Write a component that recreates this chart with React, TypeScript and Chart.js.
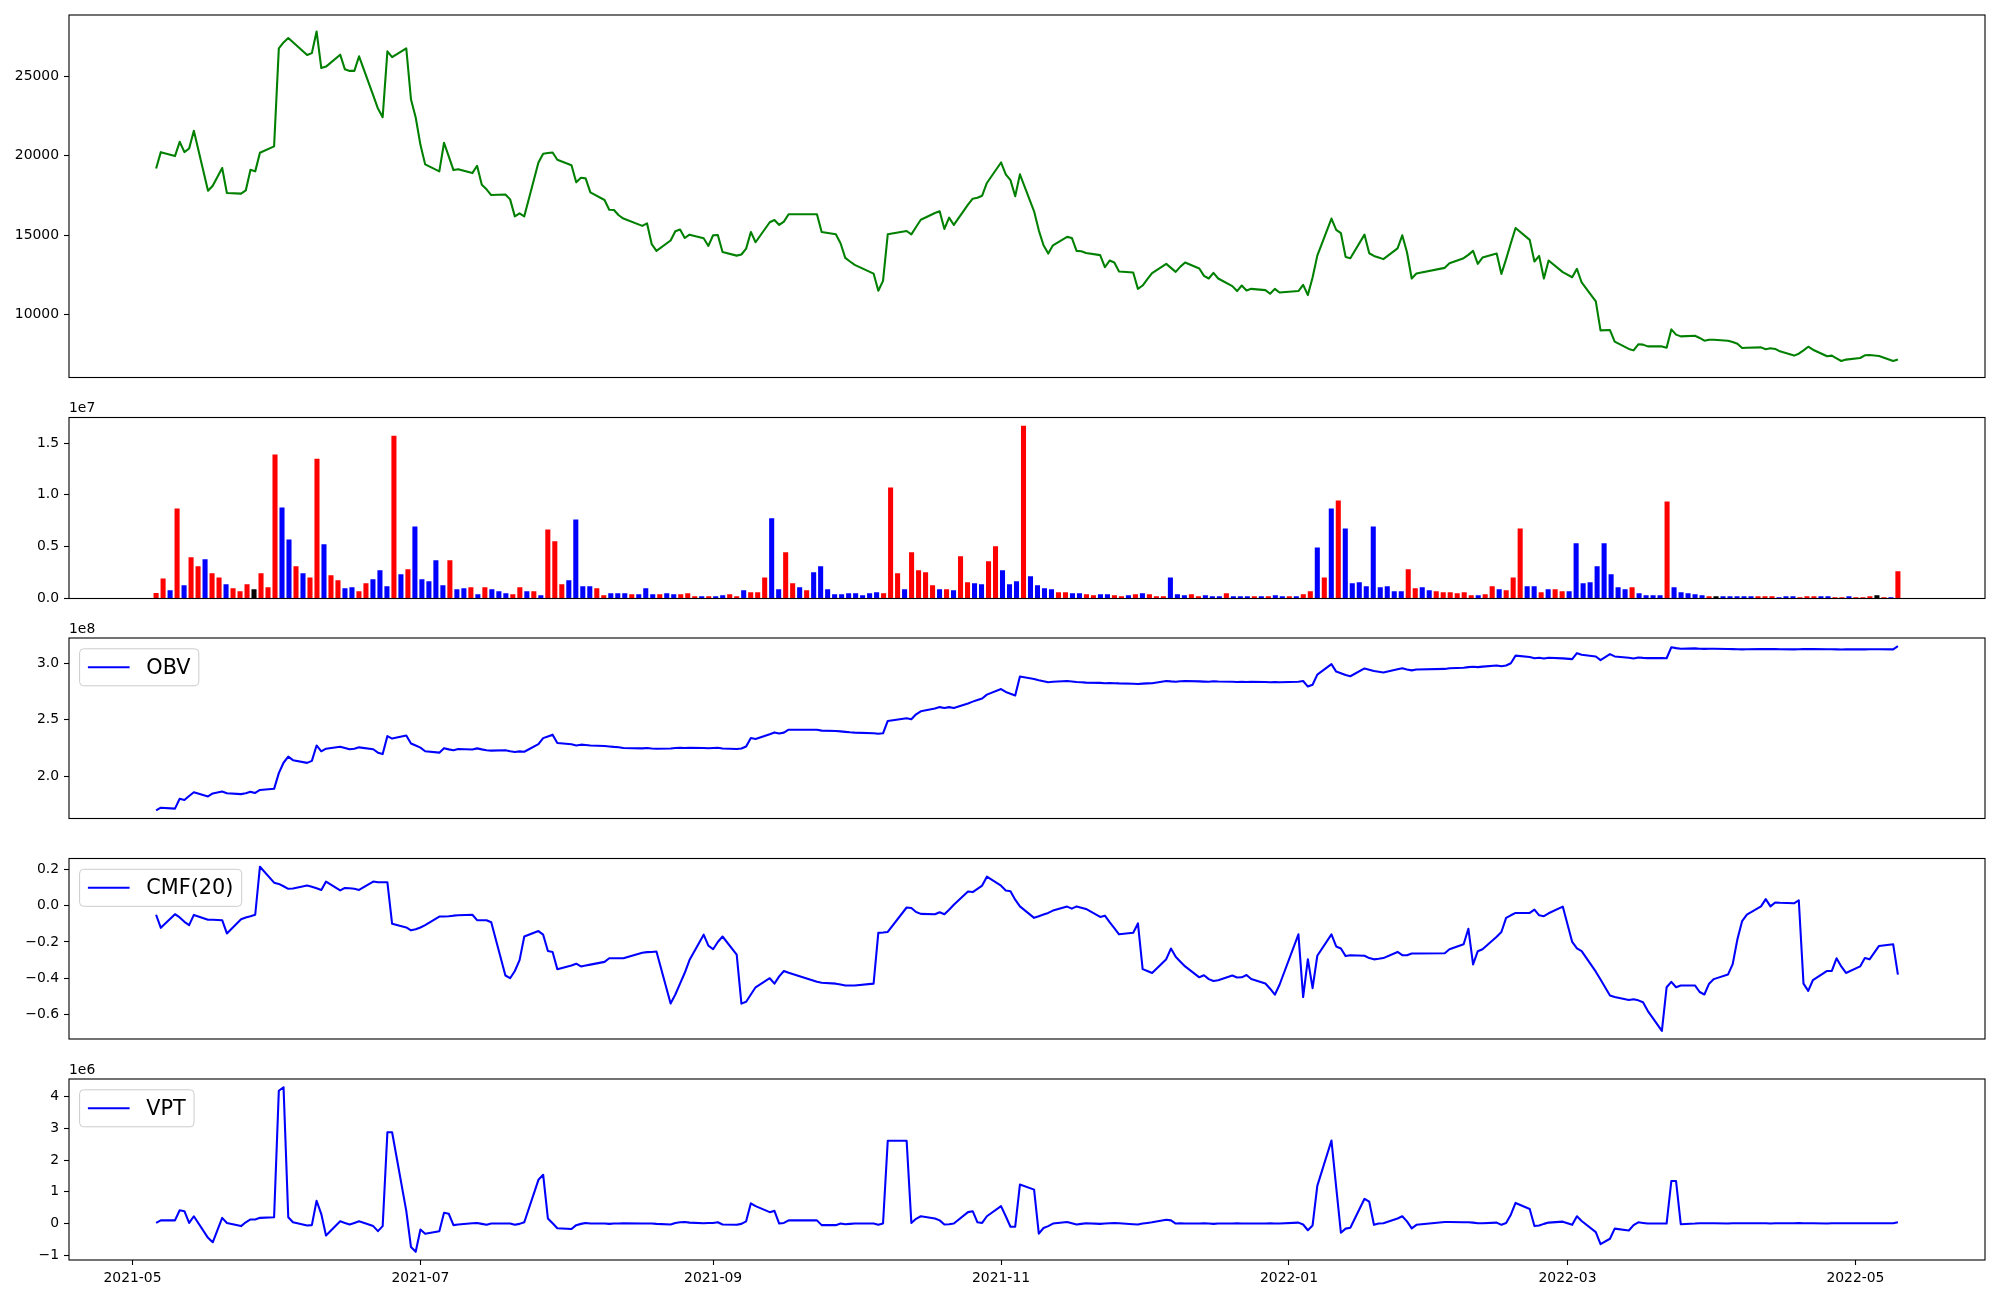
import React, { useEffect, useRef } from "react";
import { Chart, registerables } from "chart.js";

Chart.register(...registerables);

// ---------------------------------------------------------------- data
// KRX trading days shown in the chart, one row per month: "YYYY-MM|days"
const tradingDayRows: string[] = [
  "2021-05|6 7 10 11 12 13 14 17 18 20 21 24 25 26 27 28 31",
  "2021-06|1 2 3 4 7 8 9 10 11 14 15 16 17 18 21 22 23 24 25 28 29 30",
  "2021-07|1 2 5 6 7 8 9 12 13 14 15 16 19 20 21 22 23 26 27 28 29 30",
  "2021-08|2 3 4 5 6 9 10 11 12 13 17 18 19 20 23 24 25 26 27 30 31",
  "2021-09|1 2 3 6 7 8 9 10 13 14 15 16 17 23 24 27 28 29 30",
  "2021-10|1 5 6 7 8 12 13 14 15 18 19 20 21 22 25 26 27 28 29",
  "2021-11|1 2 3 4 5 8 9 10 11 12 15 16 17 18 19 22 23 24 25 26 29 30",
  "2021-12|1 2 3 6 7 8 9 10 13 14 15 16 17 20 21 22 23 24 27 28 29 30",
  "2022-01|3 4 5 6 7 10 11 12 13 14 17 18 19 20 21 24 25 26 27 28",
  "2022-02|3 4 7 8 9 10 11 14 15 16 17 18 21 22 23 24 25 28",
  "2022-03|2 3 4 7 8 10 11 14 15 16 17 18 21 22 23 24 25 28 29 30 31",
  "2022-04|1 4 5 6 7 8 11 12 13 14 15 18 19 20 21 22 25 26 27 28 29",
  "2022-05|2 3 4 6 9 10",
];

const closePrice: number[] = [
  19200, 20230, 19980, 20880, 20230, 20460, 21570, 17800, 18120, 19230, 17660, 17620, 17820, 19120, 19020, 20190, 20590,
  26760, 27130, 27410, 27140, 26340, 26460, 27820, 25520, 25610, 26360, 25440, 25340, 25340, 26260, 23800, 22970, 22430, 26570, 26210, 26760, 23540, 22410,
  20690, 19460, 19020, 20820, 19960, 19100, 19160, 18910, 19370, 18180, 17890, 17530, 17570, 17260, 16190, 16380, 16190, 19580, 20130, 20170, 20210, 19750,
  19410, 18330, 18620, 18580, 17700, 17220, 16610, 16590, 16260, 16050, 15590, 15750, 14440, 14020, 14670, 15250, 15360, 14830, 15040, 14810, 14330,
  15000, 15020, 13950, 13720, 13790, 14160, 15210, 14560, 15820, 15960, 15650, 15860, 16320, 16320, 15210, 15060, 14500, 13580, 13350,
  13140, 12590, 11510, 12130, 15060, 15270, 15060, 15520, 15980, 16400, 16510, 15400, 16110, 15650, 16930, 17300, 17360, 17490, 18290,
  19580, 18830, 18470, 17450, 18830, 16510, 15310, 14370, 13850, 14370, 14900, 14830, 14020, 14000, 13890, 13750, 12990, 13410, 13290, 12720, 12660, 11630,
  11840, 12240, 12620, 13200, 12950, 12700, 13030, 13290, 12910, 12450, 12280, 12640, 12280, 11800, 11490, 11840, 11530, 11630, 11550, 11320, 11630, 11400,
  11490, 11880, 11240, 12340, 13720, 16050, 15340, 15130, 13640, 13560, 15040, 13870, 13700, 13600, 13500, 14180, 15000, 13930, 12280, 12600,
  12950, 13240, 13560, 13770, 14020, 13200, 13600, 13850, 12570, 13500, 14500, 15460, 14710, 13350, 13700, 12280, 13410, 12680,
  12360, 12890, 12030, 10840, 9020, 9040, 8310, 7850, 7760, 8140, 8120, 8010, 8010, 7930, 9080, 8750, 8640, 8680, 8540, 8370, 8430,
  8430, 8370, 8290, 8180, 7910, 7930, 7950, 7830, 7890, 7850, 7700, 7430, 7550, 7760, 7990, 7800, 7390, 7430, 7260, 7090, 7180,
  7280, 7450, 7470, 7410, 7090, 7180,
];

// volume in units of 1e7, one bar per trading session (bars are evenly spaced by session number)
const volumeE7: number[] = [
  0.05, 0.19, 0.077, 0.865, 0.125, 0.394, 0.308, 0.375, 0.24, 0.2,
  0.135, 0.096, 0.067, 0.135, 0.087, 0.24, 0.106, 1.385, 0.875, 0.567,
  0.308, 0.24, 0.2, 1.346, 0.519, 0.221, 0.173, 0.096, 0.106, 0.067,
  0.144, 0.183, 0.269, 0.115, 1.567, 0.231, 0.279, 0.692, 0.183, 0.163,
  0.365, 0.125, 0.365, 0.087, 0.096, 0.106, 0.038, 0.106, 0.087, 0.067,
  0.048, 0.038, 0.106, 0.067, 0.067, 0.029, 0.663, 0.548, 0.135, 0.173,
  0.76, 0.115, 0.115, 0.096, 0.029, 0.048, 0.048, 0.048, 0.038, 0.038,
  0.096, 0.038, 0.038, 0.048, 0.038, 0.038, 0.048, 0.019, 0.019, 0.019,
  0.019, 0.029, 0.038, 0.019, 0.077, 0.058, 0.058, 0.2, 0.77, 0.087,
  0.442, 0.144, 0.106, 0.077, 0.25, 0.308, 0.087, 0.038, 0.038, 0.048,
  0.048, 0.029, 0.048, 0.058, 0.048, 1.067, 0.24, 0.087, 0.442, 0.269,
  0.25, 0.125, 0.087, 0.087, 0.077, 0.404, 0.154, 0.144, 0.135, 0.356,
  0.5, 0.269, 0.135, 0.163, 1.663, 0.212, 0.125, 0.096, 0.087, 0.058,
  0.058, 0.048, 0.048, 0.038, 0.029, 0.038, 0.038, 0.029, 0.019, 0.029,
  0.038, 0.048, 0.038, 0.019, 0.019, 0.2, 0.038, 0.029, 0.038, 0.019,
  0.029, 0.019, 0.019, 0.048, 0.019, 0.019, 0.019, 0.019, 0.019, 0.019,
  0.029, 0.019, 0.019, 0.019, 0.038, 0.067, 0.49, 0.2, 0.865, 0.942,
  0.673, 0.144, 0.154, 0.115, 0.692, 0.106, 0.115, 0.067, 0.067, 0.279,
  0.096, 0.106, 0.077, 0.067, 0.058, 0.058, 0.048, 0.058, 0.029, 0.029,
  0.038, 0.115, 0.087, 0.077, 0.2, 0.673, 0.115, 0.115, 0.058, 0.087,
  0.087, 0.067, 0.067, 0.529, 0.144, 0.154, 0.308, 0.529, 0.231, 0.106,
  0.087, 0.106, 0.048, 0.029, 0.029, 0.029, 0.933, 0.106, 0.058, 0.048,
  0.038, 0.029, 0.019, 0.019, 0.019, 0.019, 0.019, 0.019, 0.019, 0.019,
  0.019, 0.019, 0.01, 0.019, 0.019, 0.01, 0.019, 0.019, 0.019, 0.019,
  0.01, 0.01, 0.019, 0.01, 0.01, 0.019, 0.029, 0.01, 0.01, 0.26,
];

// bar colour per session: r = red, b = blue, k = black
const volumeColorCodes: string[] = [
  "rrbrbrrbrr", "brrrkrrrbb", "rbrrbrrbbr", "rbbbrbrbbb", "bbrbbrbrbb",
  "brrbrbrrrb", "bbbrrbbbrb", "bbrbbrrrbr", "bbrrbrrrbb", "rrbrbbbbbb",
  "bbbbrrrbrr", "rrbrbrrbbr", "rbbbrbbbbr", "rbbrrbbrrb", "rbrrrbbbrr",
  "bbbrbbbrbr", "bbrbrrbrbr", "bbbbbbbbbr", "rbbrrrrrrb", "rrbrrrbbrb",
  "rrbbbbbbbb", "brbbbbrbbb", "bbrkbbbbbr", "rrbbbrrrbb", "rrbrrrkrbr",
];

// On-balance volume, units of 1e8
const obvE8: number[] = [
  1.695, 1.718, 1.71, 1.798, 1.786, 1.822, 1.856, 1.818, 1.845, 1.862, 1.847, 1.839, 1.846, 1.859, 1.849, 1.876, 1.886,
  2.026, 2.118, 2.173, 2.141, 2.117, 2.135, 2.272, 2.22, 2.243, 2.261, 2.25, 2.238, 2.242, 2.255, 2.238, 2.208, 2.195, 2.355, 2.333, 2.361, 2.289, 2.271,
  2.253, 2.22, 2.208, 2.248, 2.237, 2.23, 2.24, 2.236, 2.246, 2.237, 2.23, 2.226, 2.23, 2.22, 2.214, 2.219, 2.216, 2.284, 2.337, 2.352, 2.368, 2.294,
  2.282, 2.272, 2.279, 2.276, 2.272, 2.267, 2.263, 2.259, 2.256, 2.249, 2.246, 2.249, 2.245, 2.242, 2.245, 2.249, 2.251, 2.249, 2.251, 2.249, 2.247,
  2.25, 2.252, 2.245, 2.24, 2.245, 2.263, 2.338, 2.33, 2.372, 2.388, 2.378, 2.386, 2.412, 2.412, 2.404, 2.4, 2.397, 2.393, 2.389,
  2.386, 2.381, 2.376, 2.38, 2.49, 2.514, 2.505, 2.549, 2.576, 2.601, 2.613, 2.605, 2.613, 2.606, 2.646, 2.662, 2.676, 2.69, 2.724,
  2.774, 2.748, 2.732, 2.716, 2.885, 2.864, 2.852, 2.843, 2.834, 2.839, 2.845, 2.841, 2.837, 2.834, 2.831, 2.829, 2.826, 2.828, 2.826, 2.824, 2.821, 2.818,
  2.822, 2.824, 2.826, 2.846, 2.842, 2.839, 2.843, 2.845, 2.842, 2.84, 2.838, 2.843, 2.841, 2.839, 2.837, 2.839, 2.837, 2.839, 2.836, 2.834, 2.836, 2.834,
  2.838, 2.845, 2.796, 2.812, 2.902, 2.996, 2.929, 2.915, 2.899, 2.888, 2.957, 2.946, 2.935, 2.928, 2.921, 2.949, 2.959, 2.948, 2.94, 2.947,
  2.953, 2.959, 2.963, 2.969, 2.972, 2.969, 2.973, 2.984, 2.976, 2.983, 3.003, 3.071, 3.059, 3.048, 3.053, 3.045, 3.053, 3.047,
  3.04, 3.093, 3.079, 3.063, 3.031, 3.085, 3.064, 3.052, 3.046, 3.055, 3.051, 3.049, 3.05, 3.048, 3.146, 3.138, 3.133, 3.136, 3.133, 3.131, 3.132,
  3.132, 3.13, 3.129, 3.128, 3.127, 3.128, 3.13, 3.129, 3.13, 3.129, 3.128, 3.127, 3.128, 3.129, 3.13, 3.129, 3.128, 3.128, 3.127, 3.126, 3.127,
  3.127, 3.127, 3.128, 3.128, 3.127, 3.155,
];

// Chaikin money flow (20)
const cmf20: number[] = [
  -0.05, -0.122, -0.047, -0.065, -0.089, -0.107, -0.051, -0.078, -0.078, -0.08, -0.153, -0.075, -0.065, -0.058, -0.05, 0.215, 0.127,
  0.12, 0.107, 0.093, 0.095, 0.111, 0.104, 0.096, 0.087, 0.133, 0.084, 0.098, 0.096, 0.093, 0.087, 0.133, 0.129, 0.129, 0.129, -0.1, -0.12, -0.136, -0.13,
  -0.12, -0.107, -0.06, -0.06, -0.058, -0.055, -0.053, -0.05, -0.08, -0.08, -0.08, -0.091, -0.385, -0.4, -0.36, -0.3, -0.17, -0.14, -0.16, -0.25, -0.255, -0.35,
  -0.33, -0.32, -0.335, -0.33, -0.325, -0.31, -0.29, -0.29, -0.29, -0.29, -0.26, -0.256, -0.255, -0.253, -0.54, -0.49, -0.43, -0.37, -0.3, -0.16, -0.22,
  -0.24, -0.2, -0.17, -0.27, -0.54, -0.53, -0.49, -0.45, -0.4, -0.43, -0.39, -0.36, -0.37, -0.42, -0.425, -0.43, -0.435, -0.44, -0.44,
  -0.44, -0.43, -0.15, -0.148, -0.145, -0.01, -0.013, -0.035, -0.045, -0.047, -0.036, -0.047, -0.022, 0.005, 0.078, 0.075, 0.093, 0.111, 0.16,
  0.11, 0.084, 0.08, 0.033, -0.004, -0.067, -0.058, -0.049, -0.04, -0.027, -0.005, -0.016, -0.004, -0.011, -0.018, -0.062, -0.055, -0.091, -0.124, -0.158, -0.149, -0.098,
  -0.35, -0.36, -0.371, -0.295, -0.236, -0.282, -0.309, -0.335, -0.395, -0.384, -0.405, -0.415, -0.411, -0.385, -0.396, -0.395, -0.382, -0.404, -0.429, -0.458, -0.491, -0.436,
  -0.158, -0.504, -0.295, -0.455, -0.276, -0.158, -0.225, -0.236, -0.278, -0.273, -0.276, -0.289, -0.296, -0.293, -0.289, -0.255, -0.273, -0.273, -0.264, -0.264,
  -0.262, -0.24, -0.213, -0.127, -0.324, -0.251, -0.24, -0.171, -0.145, -0.067, -0.053, -0.04, -0.04, -0.022, -0.053, -0.058, -0.042, -0.005,
  -0.2, -0.235, -0.251, -0.364, -0.407, -0.495, -0.504, -0.52, -0.516, -0.522, -0.533, -0.58, -0.69, -0.45, -0.42, -0.45, -0.44, -0.44, -0.476, -0.49, -0.43,
  -0.405, -0.38, -0.322, -0.185, -0.085, -0.049, -0.004, 0.036, -0.004, 0.018, 0.016, 0.013, 0.03, -0.43, -0.47, -0.41, -0.36, -0.36, -0.29, -0.335, -0.371,
  -0.335, -0.289, -0.296, -0.222, -0.213, -0.38,
];

// Volume price trend, units of 1e6
const vptE6: number[] = [
  0.02, 0.1, 0.1, 0.42, 0.39, 0.02, 0.23, -0.45, -0.59, 0.18, 0.02, -0.08, 0.04, 0.13, 0.13, 0.18, 0.2,
  4.19, 4.3, 0.2, 0.04, -0.06, -0.05, 0.72, 0.3, -0.38, 0.07, 0.02, -0.03, 0.02, 0.07, -0.08, -0.24, -0.08, 2.88, 2.88, 0.4, -0.74, -0.89,
  -0.19, -0.32, -0.24, 0.34, 0.31, -0.05, -0.03, 0.01, 0.02, -0.01, -0.04, 0.0, 0.0, 0.0, -0.04, -0.01, 0.04, 1.38, 1.54, 0.16, 0.01, -0.15,
  -0.17, -0.05, -0.01, 0.02, 0.0, 0.0, -0.01, 0.0, 0.0, 0.01, 0.0, 0.0, 0.0, -0.01, -0.03, 0.02, 0.04, 0.05, 0.03, 0.01, 0.02,
  0.02, 0.04, -0.03, -0.04, -0.01, 0.07, 0.64, 0.55, 0.36, 0.4, 0.0, 0.02, 0.1, 0.1, -0.05, -0.05, 0.0, -0.02, -0.01,
  0.0, 0.0, -0.04, 0.0, 2.61, 2.61, 0.02, 0.15, 0.23, 0.16, 0.1, -0.03, -0.02, 0.0, 0.36, 0.39, 0.04, 0.02, 0.23,
  0.55, 0.23, -0.1, -0.1, 1.23, 1.07, -0.32, -0.14, -0.08, 0.0, 0.05, 0.01, -0.03, -0.01, 0.01, -0.01, 0.0, 0.01, 0.02, 0.01, -0.02, -0.03,
  0.0, 0.02, 0.04, 0.12, 0.1, 0.0, 0.01, 0.0, 0.0, 0.01, 0.0, -0.01, 0.0, 0.0, 0.01, 0.0, 0.0, 0.0, 0.0, 0.01, 0.0, 0.0,
  0.03, -0.03, -0.21, -0.06, 1.19, 2.62, 1.15, -0.29, -0.16, -0.13, 0.78, 0.69, -0.04, 0.0, 0.01, 0.16, 0.23, 0.07, -0.15, -0.04,
  0.05, 0.05, 0.04, 0.04, 0.03, 0.01, 0.01, 0.03, -0.04, 0.02, 0.28, 0.65, 0.46, -0.08, -0.06, -0.01, 0.03, 0.06,
  -0.04, 0.23, 0.08, -0.27, -0.65, -0.48, -0.16, -0.22, -0.05, 0.04, 0.02, 0.0, 0.0, 0.0, 1.34, 1.34, -0.02, 0.0, 0.01, 0.01, 0.01,
  0.01, 0.0, 0.01, 0.01, 0.01, 0.01, 0.01, 0.01, 0.0, 0.01, 0.01, 0.01, 0.02, 0.01, 0.01, 0.01, 0.0, 0.01, 0.01, 0.01, 0.01,
  0.01, 0.01, 0.01, 0.01, 0.01, 0.04,
];

const xTickLabels: string[] = ["2021-05", "2021-07", "2021-09", "2021-11", "2022-01", "2022-03", "2022-05"];
const priceTicks: number[] = [10000, 15000, 20000, 25000];
const volumeTicks: number[] = [0, 0.5, 1.0, 1.5];
const obvTicks: number[] = [2.0, 2.5, 3.0];
const cmfTicks: number[] = [-0.6, -0.4, -0.2, 0.0, 0.2];
const vptTicks: number[] = [-1, 0, 1, 2, 3, 4];

// ---------------------------------------------------------------- helpers
const FONT_FAMILY = "'DejaVu Sans', 'Liberation Sans', sans-serif";
const TICK_PX = 13.9;
const LEGEND_PX = 20.8;
const MINUS = "\u2212";
const COLOR_MAP: Record<string, string> = { r: "#ff0000", b: "#0000ff", k: "#000000" };

Chart.defaults.font.family = FONT_FAMILY;
Chart.defaults.font.size = TICK_PX;
Chart.defaults.color = "#000";

const EPOCH = Date.UTC(2021, 4, 1);
const DAY_MS = 86400000;
function dayNumber(iso: string): number {
  const [y, m, d] = iso.split("-").map(Number);
  return (Date.UTC(y, m - 1, d || 1) - EPOCH) / DAY_MS;
}

const tradingDates: string[] = tradingDayRows.flatMap((row) => {
  const [ym, days] = row.split("|");
  return days.split(" ").map((d) => `${ym}-${d.padStart(2, "0")}`);
});
const dayNums = tradingDates.map(dayNumber);
const xTickDays = xTickLabels.map((l) => dayNumber(l + "-01"));
const daySpan = dayNums[dayNums.length - 1] - dayNums[0];
const X_MIN = dayNums[0] - 0.05 * daySpan;
const X_MAX = dayNums[dayNums.length - 1] + 0.05 * daySpan;

const barColors = volumeColorCodes.join("").split("").map((c) => COLOR_MAP[c]);

function paddedRange(values: number[], zeroBase = false): [number, number] {
  const lo = zeroBase ? 0 : Math.min(...values);
  const hi = Math.max(...values);
  const pad = (hi - lo) * 0.05;
  return [zeroBase ? 0 : lo - pad, hi + pad];
}

const withMinus = (s: string) => s.replace("-", MINUS);

const tickGrid = {
  display: true,
  drawOnChartArea: false,
  drawTicks: true,
  tickLength: 5,
  tickWidth: 1.1,
  tickColor: "#000",
};

function yScale(range: [number, number], ticks: number[], fmt: (v: number) => string) {
  return {
    type: "linear",
    position: "left",
    min: range[0],
    max: range[1],
    afterFit: (s: any) => {
      s.width = 69;
      s.paddingTop = 0;
      s.paddingBottom = 0;
    },
    afterBuildTicks: (s: any) => {
      s.ticks = ticks.map((v) => ({ value: v }));
    },
    grid: tickGrid,
    border: { display: false },
    ticks: {
      autoSkip: false,
      padding: 5,
      color: "#000",
      font: { family: FONT_FAMILY, size: TICK_PX },
      callback: (v: any) => fmt(Number(v)),
    },
  };
}

function dateScale(show: boolean) {
  return {
    type: "linear",
    position: "bottom",
    min: X_MIN,
    max: X_MAX,
    display: show,
    afterFit: (s: any) => {
      if (show) s.height = 30;
      else s.height = 0;
      s.paddingLeft = 0;
      s.paddingRight = 0;
    },
    afterBuildTicks: (s: any) => {
      s.ticks = xTickDays.map((v) => ({ value: v }));
    },
    grid: tickGrid,
    border: { display: false },
    ticks: {
      autoSkip: false,
      maxRotation: 0,
      minRotation: 0,
      padding: 5,
      color: "#000",
      font: { family: FONT_FAMILY, size: TICK_PX },
      callback: (_v: any, i: number) => xTickLabels[i],
    },
  };
}

// axes frame, offset text ("1e7") and matplotlib-style legend box
const framePlugin: any = {
  id: "frame",
  afterDraw(chart: any, _args: any, opts: any) {
    const { ctx, chartArea: a } = chart;
    ctx.save();
    ctx.strokeStyle = "#000";
    ctx.lineWidth = 1.1;
    ctx.strokeRect(a.left, a.top, a.right - a.left, a.bottom - a.top);
    if (opts && opts.offsetText) {
      ctx.font = `${TICK_PX}px ${FONT_FAMILY}`;
      ctx.fillStyle = "#000";
      ctx.textAlign = "left";
      ctx.textBaseline = "alphabetic";
      ctx.fillText(opts.offsetText, a.left, a.top - 5.5);
    }
    if (opts && opts.legendLabel) {
      const ds = chart.data.datasets[0];
      ctx.font = `${LEGEND_PX}px ${FONT_FAMILY}`;
      const tw = ctx.measureText(opts.legendLabel).width;
      const pad = 8.3;
      const handle = 41.7;
      const gap = 16.7;
      const x0 = a.left + 10.6;
      const y0 = a.top + 10.8;
      const w = pad + handle + gap + tw + pad;
      const h = 37;
      ctx.beginPath();
      if (ctx.roundRect) ctx.roundRect(x0, y0, w, h, 4);
      else ctx.rect(x0, y0, w, h);
      ctx.fillStyle = "rgba(255,255,255,0.8)";
      ctx.fill();
      ctx.lineWidth = 1;
      ctx.strokeStyle = "#cccccc";
      ctx.stroke();
      const cy = y0 + h / 2;
      ctx.beginPath();
      ctx.moveTo(x0 + pad, cy);
      ctx.lineTo(x0 + pad + handle, cy);
      ctx.strokeStyle = ds.borderColor;
      ctx.lineWidth = 2.08;
      ctx.stroke();
      ctx.fillStyle = "#000";
      ctx.textAlign = "left";
      ctx.textBaseline = "middle";
      ctx.fillText(opts.legendLabel, x0 + pad + handle + gap, cy + 1);
    }
    ctx.restore();
  },
};

function baseOptions(padTop: number, padBottom: number) {
  return {
    responsive: false,
    maintainAspectRatio: false,
    animation: false,
    devicePixelRatio: 1,
    events: [],
    layout: { padding: { left: 0, right: 15, top: padTop, bottom: padBottom } },
  };
}

function lineConfig(p: {
  values: number[];
  color: string;
  ticks: number[];
  fmt: (v: number) => string;
  padTop: number;
  padBottom: number;
  showX: boolean;
  offsetText?: string;
  legendLabel?: string;
  label: string;
}) {
  return {
    type: "line",
    data: {
      datasets: [
        {
          label: p.label,
          data: p.values.map((v, i) => ({ x: dayNums[i], y: v })),
          borderColor: p.color,
          borderWidth: 2.08,
          pointRadius: 0,
          tension: 0,
          fill: false,
          borderJoinStyle: "round",
        },
      ],
    },
    options: {
      ...baseOptions(p.padTop, p.padBottom),
      plugins: {
        legend: { display: false },
        tooltip: { enabled: false },
        frame: { offsetText: p.offsetText, legendLabel: p.legendLabel },
      },
      scales: {
        x: dateScale(p.showX),
        y: yScale(paddedRange(p.values), p.ticks, p.fmt),
      },
    },
    plugins: [framePlugin],
  };
}

function volumeConfig(padTop: number, padBottom: number) {
  const n = volumeE7.length;
  return {
    type: "bar",
    data: {
      datasets: [
        {
          label: "Volume",
          data: volumeE7.map((v, i) => ({ x: i, y: v })),
          backgroundColor: barColors,
          borderWidth: 0,
          barThickness: 4.4,
        },
      ],
    },
    options: {
      ...baseOptions(padTop, padBottom),
      plugins: {
        legend: { display: false },
        tooltip: { enabled: false },
        frame: { offsetText: "1e7" },
      },
      scales: {
        x: {
          type: "linear",
          display: false,
          offset: false,
          min: -0.05 * (n - 1),
          max: (n - 1) * 1.05,
        },
        y: yScale(paddedRange(volumeE7, true), volumeTicks, (v) => v.toFixed(1)),
      },
    },
    plugins: [framePlugin],
  };
}

// ---------------------------------------------------------------- components
function ChartPanel({ top, height, build }: { top: number; height: number; build: () => any }) {
  const ref = useRef<HTMLCanvasElement | null>(null);
  useEffect(() => {
    if (!ref.current) return;
    const chart = new Chart(ref.current, build());
    return () => chart.destroy();
  }, []);
  return (
    <canvas
      ref={ref}
      width={2000}
      height={height}
      style={{ position: "absolute", left: 0, top, width: 2000, height, display: "block" }}
    />
  );
}

export default function App() {
  return (
    <div style={{ position: "absolute", left: 0, top: 0, width: 2000, height: 1300, background: "#fff" }}>
      <ChartPanel
        top={0}
        height={390}
        build={() =>
          lineConfig({
            label: "Close",
            values: closePrice,
            color: "#008000",
            ticks: priceTicks,
            fmt: (v) => String(v),
            padTop: 15,
            padBottom: 12.5,
            showX: false,
          })
        }
      />
      <ChartPanel top={390} height={215} build={() => volumeConfig(27.5, 6.5)} />
      <ChartPanel
        top={605}
        height={220}
        build={() =>
          lineConfig({
            label: "OBV",
            values: obvE8,
            color: "#0000ff",
            ticks: obvTicks,
            fmt: (v) => v.toFixed(1),
            padTop: 33,
            padBottom: 6.5,
            showX: false,
            offsetText: "1e8",
            legendLabel: "OBV",
          })
        }
      />
      <ChartPanel
        top={825}
        height={220}
        build={() =>
          lineConfig({
            label: "CMF(20)",
            values: cmf20,
            color: "#0000ff",
            ticks: cmfTicks,
            fmt: (v) => withMinus(v.toFixed(1)),
            padTop: 33.5,
            padBottom: 6,
            showX: false,
            legendLabel: "CMF(20)",
          })
        }
      />
      <ChartPanel
        top={1045}
        height={255}
        build={() =>
          lineConfig({
            label: "VPT",
            values: vptE6,
            color: "#0000ff",
            ticks: vptTicks,
            fmt: (v) => withMinus(String(v)),
            padTop: 34,
            padBottom: 10,
            showX: true,
            offsetText: "1e6",
            legendLabel: "VPT",
          })
        }
      />
    </div>
  );
}
